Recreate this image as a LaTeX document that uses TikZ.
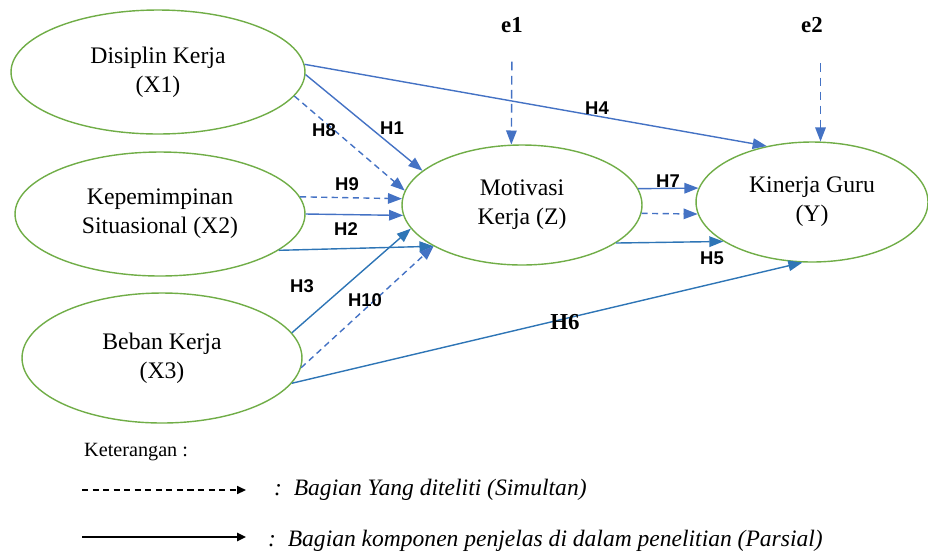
\documentclass[tikz,border=0pt]{standalone}
\usepackage{fontspec}
\setmainfont{Liberation Serif}
\newfontfamily\arialfont{Liberation Sans}
\usetikzlibrary{positioning, arrows.meta, shapes.geometric}
\definecolor{varGreen}{HTML}{70AD47}
\definecolor{pathBlue}{HTML}{4472C4}
\definecolor{pathCyan}{HTML}{2E75B6}

\begin{document}
\begin{tikzpicture}[x=0.02cm, y=-0.02cm,
		variabel/.style={ellipse, draw=varGreen, line width=0.8pt, align=center, inner sep=0pt, font=\fontsize{13.5}{16.5}\selectfont},
		jalur/.style={pathBlue, line width=0.8pt, -{Triangle[length=8pt, width=6pt]}},
		simultan/.style={jalur, dash pattern=on 3.5pt off 2.5pt},
		hlabel/.style={font=\arialfont\bfseries\fontsize{10.5}{12}\selectfont},
		elabel/.style={font=\bfseries\fontsize{13}{15}\selectfont},
		legenda/.style={black, line width=0.8pt, -{Triangle[length=5pt, width=4.5pt]}}
	]
	\useasboundingbox (0,0) rectangle (928,556);
	
	\node[variabel, minimum width=5.88cm, minimum height=2.48cm] (dk) at (158,72) {Disiplin Kerja\\(X1)};
	\node[variabel, minimum width=5.8cm, minimum height=2.48cm] (kp) at (160,214) {Kepemimpinan\\Situasional (X2)};
	\node[variabel, minimum width=5.6cm, minimum height=2.6cm] (bk) at (162,358) {Beban Kerja\\(X3)};
	\node[variabel, minimum width=4.8cm, minimum height=2.4cm] (mk) at (522,205) {Motivasi\\Kerja (Z)};
	\node[variabel, minimum width=4.64cm, minimum height=2.4cm] (kg) at (812,202) {Kinerja Guru\\(Y)};
	
	\node[elabel] (e1) at (512,25) {e1};
	\node[elabel] (e2) at (812,25) {e2};
	\draw[simultan, dash pattern=on 5pt off 3pt, shorten <=13pt] (e1.south) -- (mk.100);
	\draw[simultan, dash pattern=on 5pt off 3pt, shorten <=14pt] (e2.south -| kg.82) -- (kg.82);
	
	\draw[jalur] (dk.-1) -- (mk.161);
	\draw[jalur] (dk.3) -- (kg.129);
	\draw[simultan] (dk.-10) -- (mk.173);
	\draw[simultan] (kp.7) -- (mk.177);
	\draw[jalur] (kp.0) -- (mk.185);
	\draw[jalur, pathCyan] (kp.-17) -- (mk.205);
	\draw[jalur, pathCyan] (bk.11) -- (mk.192);
	\draw[simultan] (bk.-4) -- (mk.205);
	\draw[jalur, pathCyan] (bk.-11) -- (kg.261);
	\draw[jalur] (mk.8) -- (kg.173);
	\draw[simultan] (mk.-4) -- (kg.186);
	\draw[jalur, pathCyan] (mk.-22) -- (kg.204);
	
	\node[hlabel] (h1) at (392,128) {H1};
	\node[hlabel] (h2) at (346,229) {H2};
	\node[hlabel] (h3) at (302,286) {H3};
	\node[hlabel] (h4) at (597,108) {H4};
	\node[hlabel] (h5) at (712,258) {H5};
	\node[elabel, font=\bfseries\fontsize{13}{15}\selectfont] (h6) at (565,322) {H6};
	\node[hlabel] (h7) at (668,181) {H7};
	\node[hlabel] (h8) at (324,130) {H8};
	\node[hlabel] (h9) at (347,184) {H9};
	\node[hlabel] (h10) at (365,300) {H10};
	
	\node[anchor=west, font=\fontsize{11.5}{13}\selectfont] (ket) at (78,452) {Keterangan :};
	\coordinate (sim1) at (82,490);
	\coordinate (sim2) at (246,490);
	\coordinate (par1) at (82,537);
	\coordinate (par2) at (246,537);
	\draw[legenda, dash pattern=on 3.5pt off 2.5pt] (sim1) -- (sim2);
	\draw[legenda, line width=1.2pt] (par1) -- (par2);
	\node[anchor=west, font=\itshape\fontsize{13.4}{15}\selectfont] (tsim) at (268,490) {:\ \ Bagian Yang diteliti (Simultan)};
	\node[anchor=west, font=\itshape\fontsize{13.4}{15}\selectfont] (tpar) at (262,541) {:\ \ Bagian komponen penjelas di dalam penelitian (Parsial)};
\end{tikzpicture}
\end{document}
